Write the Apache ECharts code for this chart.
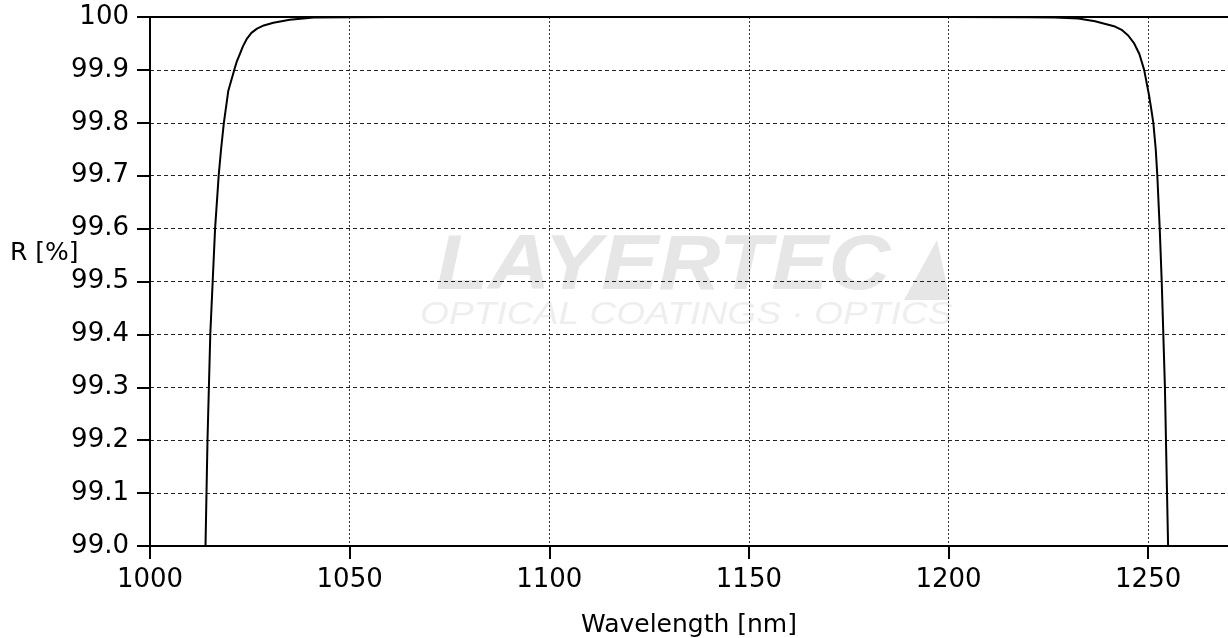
<!DOCTYPE html>
<html><head><meta charset="utf-8">
<script src="https://cdn.jsdelivr.net/npm/echarts@6/dist/echarts.min.js"></script>
<style>html,body{margin:0;padding:0;background:#fff}#c{width:1228px;height:638px}</style>
</head><body><div id="c"></div>
<script>
const wavelength = [1013.9, 1014.1, 1014.4, 1014.75, 1015.1, 1015.7, 1016.3, 1017.2, 1017.8, 1018.5, 1019.6, 1021.1, 1021.7, 1022.5, 1023.3, 1024.2, 1025.4, 1026.8, 1028.5, 1030.9, 1035, 1041, 1060, 1100, 1150, 1200, 1220, 1226.7, 1232.5, 1236.7, 1241.7, 1243.5, 1245, 1246.5, 1247.8, 1249, 1250.2, 1250.8, 1251.3, 1251.9, 1252.3, 1252.9, 1253.4, 1253.8, 1254.2, 1254.7, 1255.0];
const reflectance = [99.0, 99.08, 99.2, 99.3, 99.4, 99.5, 99.6, 99.7, 99.75, 99.8, 99.86, 99.9, 99.915, 99.93, 99.945, 99.958, 99.97, 99.978, 99.984, 99.989, 99.995, 99.999, 100, 100, 100, 100, 99.9995, 99.999, 99.997, 99.992, 99.982, 99.975, 99.965, 99.95, 99.93, 99.9, 99.853, 99.825, 99.8, 99.75, 99.7, 99.6, 99.5, 99.4, 99.3, 99.11, 99.0];
const xTicks = [1000, 1050, 1100, 1150, 1200, 1250];
const yLabelTop = '100';
const xTitle = 'Wavelength [nm]';
const yTitle = 'R [%]';

const chart = echarts.init(document.getElementById('c'), null, {renderer: 'canvas'});
const font = 'DejaVu Sans, Verdana, sans-serif';
chart.setOption({
  animation: false,
  backgroundColor: '#fff',
  grid: {left: 150, right: 0, top: 17, bottom: 92, containLabel: false, outerBoundsMode: 'none'},
  graphic: [
    {type: 'text', x: 436, y: 228, scaleX: 1.1, z: 0, silent: true,
      style: {text: 'LAYERTEC', font: 'italic 900 78px Liberation Sans, Arial', fill: '#e6e6e6'}},
    {type: 'polygon', z: 0, silent: true,
      shape: {points: [[904, 300], [937, 240], [950, 300]]}, style: {fill: '#e6e6e6'}},
    {type: 'text', x: 420, y: 300, scaleX: 1.2, z: 0, silent: true,
      style: {text: 'OPTICAL COATINGS · OPTICS', font: 'italic 31px Liberation Sans, Arial', fill: '#eeeeee'}},
    {type: 'text', left: 10, top: 241, style: {text: yTitle, font: '25px ' + font, fill: '#000'}}
  ],
  xAxis: [{
    type: 'value', min: 1000, max: 1270, interval: 50,
    name: xTitle, nameLocation: 'middle', nameGap: 67,
    nameTextStyle: {fontFamily: font, fontSize: 25, color: '#000'},
    axisLine: {show: true, lineStyle: {color: '#000', width: 2}},
    axisTick: {show: true, length: 13, lineStyle: {color: '#000', width: 2}},
    axisLabel: {fontFamily: font, fontSize: 26, color: '#000', margin: 21, showMaxLabel: false,
      formatter: v => xTicks.includes(v) ? String(v) : ''},
    splitLine: {show: true, lineStyle: {color: '#333', type: [2, 2], width: 1}}
  }, {
    type: 'value', position: 'top', min: 1000, max: 1270,
    axisLine: {show: true, lineStyle: {color: '#000', width: 2}},
    axisTick: {show: false}, axisLabel: {show: false}, splitLine: {show: false}
  }],
  yAxis: {
    type: 'value', min: 99, max: 100, interval: 0.1,
    axisLine: {show: true, lineStyle: {color: '#000', width: 2}},
    axisTick: {show: true, length: 13, lineStyle: {color: '#000', width: 2}},
    axisLabel: {fontFamily: font, fontSize: 26, color: '#000', margin: 21,
      formatter: v => Math.abs(v - 100) < 1e-9 ? yLabelTop : v.toFixed(1)},
    splitLine: {show: true, lineStyle: {color: '#222', type: [4, 3], width: 1}}
  },
  series: [{
    type: 'line', xAxisIndex: 0, yAxisIndex: 0,
    data: wavelength.map((w, i) => [w, reflectance[i]]),
    showSymbol: false, smooth: false,
    lineStyle: {color: '#000', width: 2}, z: 5, clip: true
  }]
});
</script></body></html>
